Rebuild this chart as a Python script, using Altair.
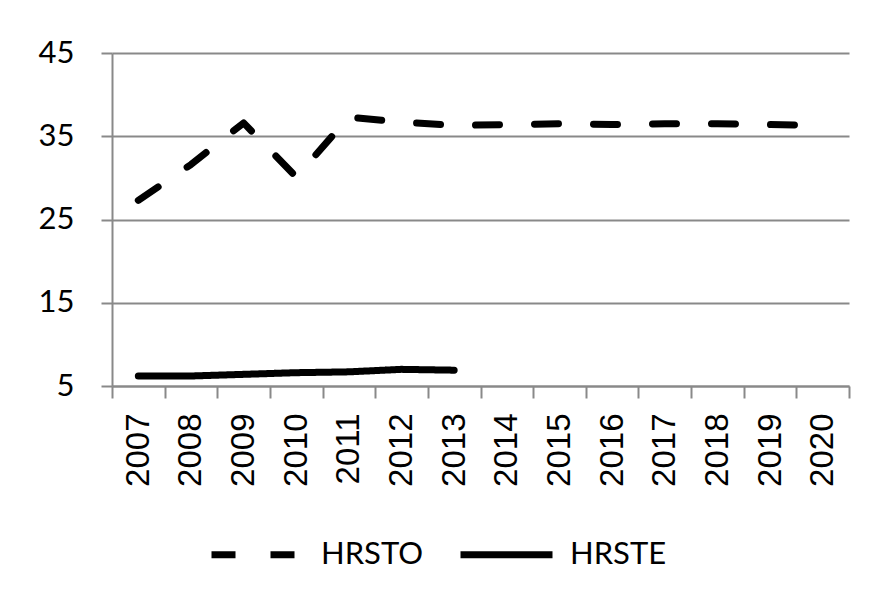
import altair as alt
import pandas as pd

years = [str(y) for y in range(2007, 2021)]
hrsto = [27.3, 31.6, 36.6, 30.1, 37.3, 36.7, 36.3, 36.4, 36.5, 36.4, 36.5, 36.5, 36.4, 36.3]
hrste = [6.2, 6.2, 6.4, 6.6, 6.7, 7.0, 6.9]
series = ["HRSTO", "HRSTE"]

rows = []
for y, v in zip(years, hrsto):
    rows.append({"year": y, "value": v, "series": "HRSTO"})
for y, v in zip(years, hrste):
    rows.append({"year": y, "value": v, "series": "HRSTE"})
df = pd.DataFrame(rows)

gray = "#898989"

chart = alt.Chart(df).mark_line(
    strokeWidth=7, strokeCap="round", strokeJoin="round", color="black"
).encode(
    x=alt.X(
        "year:O",
        sort=years,
        bandPosition=0.5,
        scale=alt.Scale(type="band", paddingInner=0, paddingOuter=0),
        axis=alt.Axis(
            title=None, labelAngle=270, tickBand="extent", tickSize=12,
            labelPadding=15, labelFont="Liberation Sans", labelFontSize=33,
            labelColor="black", grid=False,
        ),
    ),
    y=alt.Y(
        "value:Q",
        scale=alt.Scale(domain=[5, 45], nice=False, zero=False),
        axis=alt.Axis(
            title=None, values=[5, 15, 25, 35, 45], tickSize=11, labelPadding=27,
            labelFont="Lato", labelFontSize=31, labelColor="black", grid=True,
        ),
    ),
    strokeDash=alt.StrokeDash(
        "series:N",
        scale=alt.Scale(domain=series, range=[[24, 35], [1, 0]]),
        legend=alt.Legend(
            title=None, orient="none", legendX=96, legendY=452,
            direction="horizontal", symbolType="stroke", symbolSize=8464,
            symbolStrokeWidth=7, symbolStrokeColor="black",
            labelFont="Lato", labelFontSize=31, labelColor="black",
            labelOffset=14, columnPadding=22, padding=0,
        ),
    ),
).properties(
    width=737, height=333,
    autosize=alt.AutoSizeParams(type="none"),
    padding={"left": 104, "top": 45, "right": 19, "bottom": 212},
    background="white",
).configure_axis(
    domainColor=gray, domainWidth=2, tickColor=gray, tickWidth=2,
    gridColor=gray, gridWidth=2,
).configure_view(stroke=None)

chart.save("out.html", embed_options={"renderer": "svg", "actions": False})
